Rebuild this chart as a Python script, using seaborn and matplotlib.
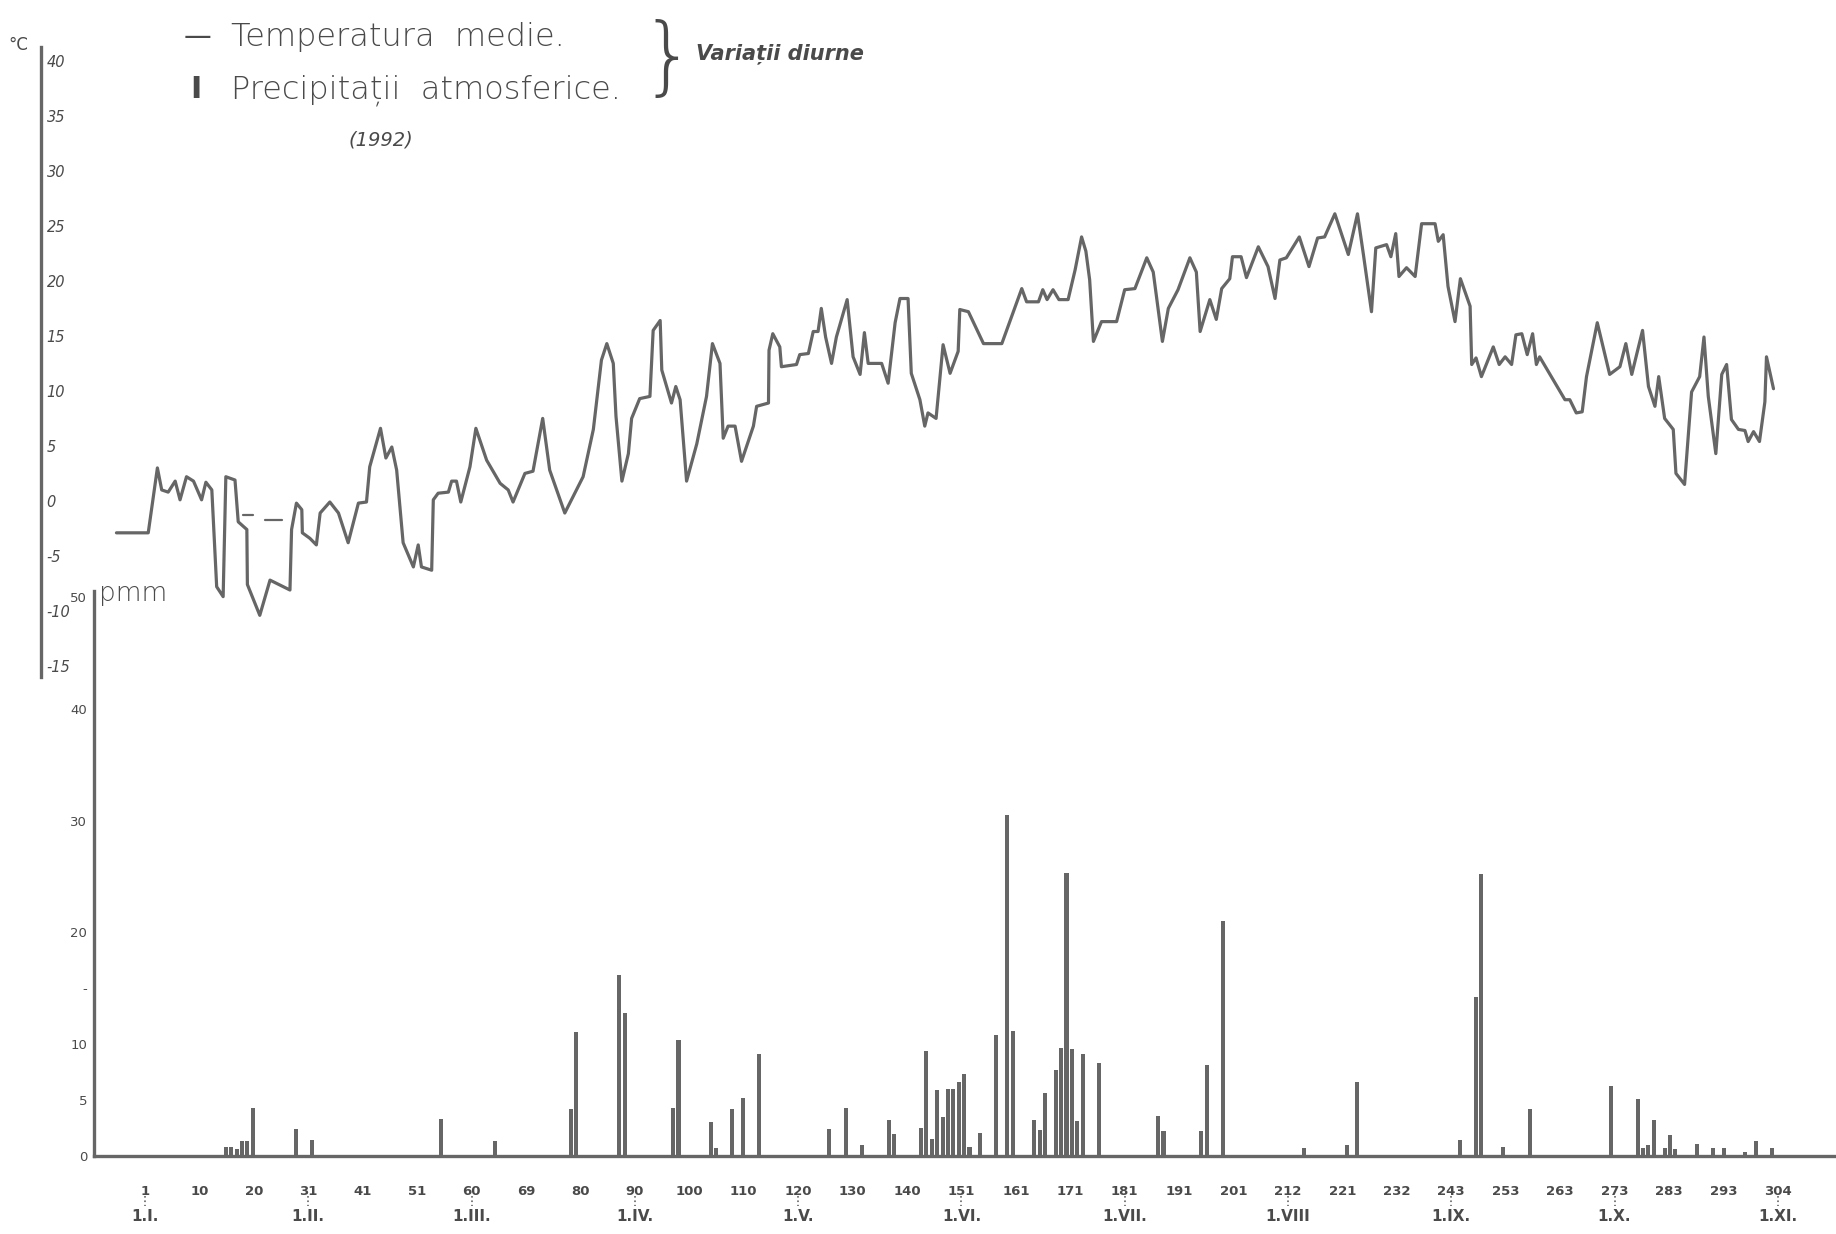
import numpy as np
import pandas as pd
import matplotlib
matplotlib.use("Agg")
import matplotlib.pyplot as plt
import seaborn as sns

# --- data (day of year 1992) ---
temp_day = [-4.3, 1.6, 2.2, 3.3, 4.1, 5.3, 6.6, 7.5, 8.7, 10.0, 11.5, 12.3, 13.4, 14.3, 15.5, 16.0,
            17.7, 18.3, 19.9, 20.0, 22.3, 24.2, 27.9, 28.2, 29.1, 30.1, 30.2, 31.6, 32.8, 33.5, 35.3,
            36.9, 38.7, 40.6, 42.1, 42.7, 44.7, 45.7, 46.8, 47.7, 48.9, 50.8, 51.7, 52.3, 54.2, 54.5,
            55.4, 57.3, 57.9, 58.8, 59.6, 61.3, 62.4, 64.4, 66.9, 68.4, 69.3, 71.5, 73.0, 74.8, 76.1,
            78.9, 82.3, 84.2, 85.7, 86.7, 87.9, 88.4, 89.5, 90.7, 91.3, 92.8, 94.7, 95.3, 96.6, 96.9,
            98.7, 99.5, 100.3, 101.5, 103.4, 105.2, 106.3, 107.7, 108.3, 109.2, 110.5, 111.7, 113.9,
            114.5, 116.7, 116.8, 117.5, 118.8, 119.1, 121.9, 122.5, 124.1, 125.0, 125.9, 126.5, 127.3,
            128.4, 129.3, 131.3, 132.4, 133.7, 134.5, 135.2, 137.7, 138.9, 140.2, 141.1, 142.6, 143.2,
            144.8, 145.7, 146.3, 147.8, 149.1, 150.4, 151.9, 152.2, 153.8, 156.6, 160.0, 163.7, 164.6,
            166.8, 167.6, 168.4, 169.5, 170.6, 172.3, 173.6, 174.8, 175.6, 176.3, 177.0, 178.5, 181.3,
            182.8, 184.7, 186.9, 188.1, 189.8, 190.9, 192.7, 194.9, 196.1, 196.8, 198.6, 199.8, 200.8,
            202.3, 202.8, 204.4, 205.4, 207.6, 209.4, 210.7, 211.6, 212.8, 215.2, 217.0, 218.6, 219.9,
            221.8, 224.3, 226.0, 227.1, 228.6, 229.4, 231.4, 232.2, 233.1, 233.7, 235.1, 236.7, 237.9,
            240.4, 241.0, 241.9, 242.8, 244.1, 245.1, 246.9, 247.2, 248.0, 249.0, 251.2, 252.3, 253.4,
            254.6, 255.4, 256.5, 257.5, 258.5, 259.2, 259.8, 264.5, 265.4, 266.6, 267.7, 268.5, 270.5,
            272.8, 274.7, 275.8, 276.9, 278.9, 280.0, 281.2, 281.9, 283.0, 284.6, 285.1, 286.7, 288.0,
            289.5, 290.3, 291.1, 292.5, 293.6, 294.5, 295.4, 296.7, 297.9, 298.5, 299.5, 300.6, 301.6,
            301.9, 303.2]
temp_c = [-2.9, -2.9, -0.8, 3.0, 1.0, 0.8, 1.8, 0.1, 2.2, 1.8, 0.1, 1.7, 1.0, -7.8, -8.7, 2.2,
          1.9, -1.9, -2.6, -7.6, -10.4, -7.2, -8.1, -2.6, -0.2, -0.8, -2.9, -3.4, -4.0, -1.1, -0.1,
          -1.1, -3.8, -0.2, -0.1, 3.1, 6.6, 3.9, 4.9, 2.8, -3.8, -6.0, -4.0, -6.0, -6.3, 0.1,
          0.7, 0.8, 1.8, 1.8, -0.1, 3.1, 6.6, 3.7, 1.6, 1.0, -0.1, 2.5, 2.7, 7.5, 2.8,
          -1.1, 2.2, 6.5, 12.8, 14.3, 12.5, 7.7, 1.8, 4.3, 7.5, 9.3, 9.5, 15.5, 16.4, 11.9,
          8.9, 10.4, 9.2, 1.8, 5.2, 9.5, 14.3, 12.5, 5.7, 6.8, 6.8, 3.6, 6.8,
          8.6, 8.9, 13.7, 15.2, 14.0, 12.2, 12.4, 13.3, 13.4, 15.4, 15.4, 17.5, 14.9,
          12.5, 14.9, 18.3, 13.1, 11.5, 15.3, 12.5, 12.5, 10.7, 16.2, 18.4, 18.4, 11.6,
          9.2, 6.8, 8.0, 7.5, 14.2, 11.6, 13.6, 17.4, 17.2, 14.3, 14.3, 19.3, 18.1,
          18.1, 19.2, 18.3, 19.2, 18.3, 18.3, 21.0, 24.0, 22.7, 20.1, 14.5, 16.3, 16.3,
          19.2, 19.3, 22.1, 20.8, 14.5, 17.5, 19.2, 22.1, 20.8, 15.4, 18.3, 16.5, 19.3,
          20.2, 22.2, 22.2, 20.3, 23.1, 21.3, 18.4, 21.9, 22.1, 24.0, 21.3, 23.9, 24.0,
          26.1, 22.4, 26.1, 22.4, 17.2, 23.0, 23.3, 22.2, 24.3, 20.4, 21.2, 20.4, 25.2,
          25.2, 23.6, 24.2, 19.5, 16.3, 20.2, 17.7, 12.4, 13.0, 11.3, 14.0, 12.4, 13.1,
          12.4, 15.1, 15.2, 13.3, 15.2, 12.4, 13.1, 9.2, 9.2, 8.0, 8.1, 11.3, 16.2,
          11.5, 12.2, 14.3, 11.5, 15.5, 10.4, 8.6, 11.3, 7.5, 6.5, 2.5, 1.5, 9.9,
          11.3, 14.9, 9.5, 4.3, 11.5, 12.4, 7.4, 6.5, 6.4, 5.4, 6.3, 5.4, 9.0,
          13.1, 10.2]

# short dashed piece drawn under the January dip
gap_day = [19.2, 21.0, np.nan, 23.3, 26.4]
gap_temp = [-1.3, -1.3, np.nan, -1.7, -1.7]

rain_day = [16, 17, 18, 19, 20, 21, 29, 32, 56, 66, 80, 81, 89, 90, 99, 100, 106, 107, 110, 112, 115,
            128, 131, 134, 139, 140, 145, 146, 147, 148, 149, 150, 151, 152, 153, 154, 156, 159, 161,
            162, 166, 167, 168, 170, 171, 172, 173, 174, 175, 178, 189, 190, 197, 198, 201,
            216, 224, 226, 245, 248, 249, 253, 258, 273, 278, 279, 280, 281, 283, 284, 285, 289,
            292, 294, 298, 300, 303]
rain_mm = [0.8, 0.8, 0.6, 1.3, 1.3, 4.3, 2.4, 1.4, 3.3, 1.3, 4.2, 11.1, 16.2, 12.8, 4.3, 10.4, 3.0,
           0.7, 4.2, 5.2, 9.1,
           2.4, 4.3, 1.0, 3.2, 2.0, 2.5, 9.4, 1.5, 5.9, 3.5, 6.0, 6.0, 6.6, 7.3, 0.8, 2.1, 10.8, 30.5,
           11.2, 3.2, 2.3, 5.6, 7.7, 9.7, 25.3, 9.6, 3.1, 9.1, 8.3, 3.6, 2.2, 2.2, 8.1, 21.0,
           0.7, 1.0, 6.6, 1.4, 14.2, 25.2, 0.8, 4.2, 6.3, 5.1, 0.7, 1.0, 3.2, 0.7, 1.9, 0.6, 1.1,
           0.7, 0.7, 0.4, 1.3, 0.7]

x_labels = ["1", "10", "20", "31", "41", "51", "60", "69", "80", "90", "100", "110", "120", "130",
            "140", "151", "161", "171", "181", "191", "201", "212", "221", "232", "243", "253",
            "263", "273", "283", "293", "304"]
month_labels = ["1.I.", "1.II.", "1.III.", "1.IV.", "1.V.", "1.VI.", "1.VII.", "1.VIII",
                "1.IX.", "1.X.", "1.XI."]
month_tick_idx = [0, 3, 6, 9, 12, 15, 18, 21, 24, 27, 30]

temp_ticks = [40, 35, 30, 25, 20, 15, 10, 5, 0, -5, -10, -15]
rain_ticks = [0, 5, 10, 15, 20, 30, 40, 50]
rain_tick_labels = ["0", "5", "10", "-", "20", "30", "40", "50"]

df_t = pd.DataFrame({"zi": temp_day, "temp": temp_c})
df_p = pd.DataFrame({"zi": rain_day, "mm": rain_mm})

# --- style ---
sns.set_theme(style="white")
plt.rcParams["font.family"] = ["DejaVu Sans"]
GRAY = "#666666"
TXT = "#4a4a4a"

W, H = 1836, 1234
fig = plt.figure(figsize=(W / 100, H / 100), dpi=100)
fig.patch.set_facecolor("white")


def fx(x):
    return x / W


def fy(y):
    return 1 - y / H


rect = [fx(41), fy(1156), fx(1836) - fx(41), fy(40) - fy(1156)]
x_lim = (-18.3, 314.8)

# precipitation axes (bottom part, carries the day axis)
ax_p = fig.add_axes(rect)
ax_p.set_facecolor("none")
sns.barplot(data=df_p, x="zi", y="mm", native_scale=True, orient="x", width=0.75,
            color=GRAY, saturation=1, errorbar=None, linewidth=0, ax=ax_p)
ax_p.set_xlim(*x_lim)
ax_p.set_ylim(0, 99.8)
ax_p.set_xlabel("")
ax_p.set_ylabel("")
for s in ["top", "right"]:
    ax_p.spines[s].set_visible(False)
ax_p.spines["left"].set_position(("data", -8.46))
ax_p.spines["left"].set_bounds(0, 50.5)
ax_p.spines["bottom"].set_bounds(-8.46, x_lim[1])
for s in ["left", "bottom"]:
    ax_p.spines[s].set_color(GRAY)
    ax_p.spines[s].set_linewidth(2.4)
ax_p.set_yticks(rain_ticks, rain_tick_labels)
ax_p.tick_params(axis="y", direction="inout", length=6, width=1.5, colors=GRAY,
                 labelsize=9.5, labelcolor=TXT, pad=2)
x_pos = np.linspace(1, 304, 31)
ax_p.set_xticks(x_pos, x_labels)
ax_p.tick_params(axis="x", direction="out", length=7, width=1.5, colors=GRAY,
                 labelsize=9.5, labelcolor=TXT, pad=14)
for lab in ax_p.get_xticklabels():
    lab.set_fontweight("bold")
xtr = ax_p.get_xaxis_transform()
for i, lab in zip(month_tick_idx, month_labels):
    ax_p.text(x_pos[i], -0.054, lab, transform=xtr, ha="center", va="center",
              fontsize=11, fontweight="bold", color=TXT)
    ax_p.plot([x_pos[i], x_pos[i]], [-0.036, -0.045], transform=xtr, clip_on=False,
              color=GRAY, lw=1.2, ls=":")
ax_p.text(-7.5, 50.3, "pmm", fontsize=19, color=TXT, va="center", ha="left",
          fontweight="light")

# temperature axes (top part)
ax_t = fig.add_axes(rect)
ax_t.set_facecolor("none")
sns.lineplot(data=df_t, x="zi", y="temp", sort=False, estimator=None, color=GRAY,
             linewidth=2.3, ax=ax_t)
ax_t.plot(gap_day, gap_temp, color=GRAY, lw=1.6)
ax_t.set_xlim(*x_lim)
ax_t.set_ylim(-59.55, 41.9)
ax_t.set_xlabel("")
ax_t.set_ylabel("")
for s in ["top", "right", "bottom"]:
    ax_t.spines[s].set_visible(False)
ax_t.spines["left"].set_bounds(-16, 41.3)
ax_t.spines["left"].set_color(GRAY)
ax_t.spines["left"].set_linewidth(2.4)
ax_t.set_xticks([])
ax_t.set_yticks(temp_ticks, [str(t) for t in temp_ticks])
ax_t.tick_params(axis="y", direction="inout", length=6, width=1.5, colors=GRAY,
                 labelsize=10.5, labelcolor=TXT, pad=-7)
for lab in ax_t.get_yticklabels():
    lab.set_horizontalalignment("left")
    lab.set_fontstyle("italic")

# legend / title block
fig.text(fx(8), fy(45), "°C", fontsize=12, color=TXT, va="center")
fig.text(fx(184), fy(37), "—", fontsize=20, color=TXT, va="center")
fig.text(fx(231), fy(37), "Temperatura  medie.", fontsize=23, color=TXT, va="center",
         fontweight="light")
fig.text(fx(190), fy(90), "I", fontsize=22, color=TXT, va="center", fontweight="bold")
fig.text(fx(231), fy(90), "Precipitații  atmosferice.", fontsize=23, color=TXT, va="center",
         fontweight="light")
fig.text(fx(349), fy(140), "(1992)", fontsize=14, color=TXT, va="center", style="italic")
fig.text(fx(668), fy(60), "}", fontsize=62, color=TXT, ha="center", va="center",
         fontweight="light")
fig.text(fx(696), fy(54), "Variații diurne", fontsize=15, color=TXT, va="center",
         style="italic", fontweight="bold")

fig.savefig("out.png", dpi=100, facecolor="white")
